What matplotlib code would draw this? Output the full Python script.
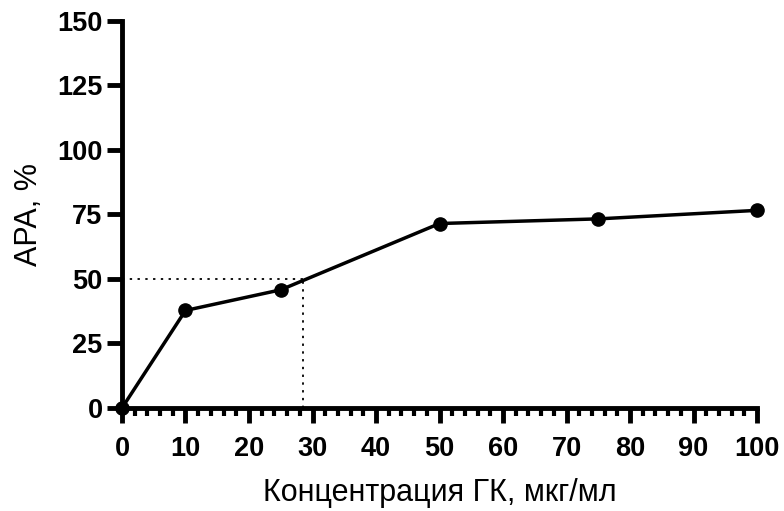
import matplotlib
matplotlib.use("Agg")
import matplotlib.pyplot as plt
from matplotlib.ticker import MultipleLocator

concentration = [0, 10, 25, 50, 75, 100]
apa_percent = [0, 37.8, 45.8, 71.5, 73.3, 76.6]
ic50_x = 28.5
ic50_y = 50

x_ticks = list(range(0, 101, 10))
y_ticks = [0, 25, 50, 75, 100, 125, 150]

plt.rcParams['font.family'] = ['Liberation Sans', 'DejaVu Sans']

fig = plt.figure(figsize=(7.84, 5.11), dpi=100)
ax = fig.add_axes([0.1556, 0.2016, 0.81, 0.7573])

ax.plot(concentration, apa_percent, color='black', lw=2.5, marker='o',
        markersize=9.5, zorder=3, clip_on=False)
ax.plot([0, ic50_x], [ic50_y, ic50_y], color='black', lw=1.3, ls=(0, (1.3, 3)))
ax.plot([ic50_x, ic50_x], [0, ic50_y], color='black', lw=1.3, ls=(0, (1.3, 3)))

ax.set_xlim(0, 100)
ax.set_ylim(0, 150)
ax.set_xticks(x_ticks)
ax.set_yticks(y_ticks)
ax.xaxis.set_minor_locator(MultipleLocator(2))

for side in ['top', 'right']:
    ax.spines[side].set_visible(False)
for side in ['left', 'bottom']:
    ax.spines[side].set_linewidth(3.5)

ax.tick_params(axis='both', which='major', width=3.5, length=11, labelsize=19.5)
ax.tick_params(axis='x', which='major', pad=9)
ax.tick_params(axis='y', which='major', pad=3)
ax.tick_params(axis='x', which='minor', width=3, length=5.5)
for lbl in ax.get_xticklabels() + ax.get_yticklabels():
    lbl.set_fontweight('bold')

ax.set_xlabel('Концентрация ГК, мкг/мл', fontsize=22)
ax.set_ylabel('APA, %', fontsize=22, va='center')
ax.xaxis.set_label_coords(0.5, -0.18)
ax.yaxis.set_label_coords(-0.147, 0.5)

fig.savefig('out.png', dpi=100)
